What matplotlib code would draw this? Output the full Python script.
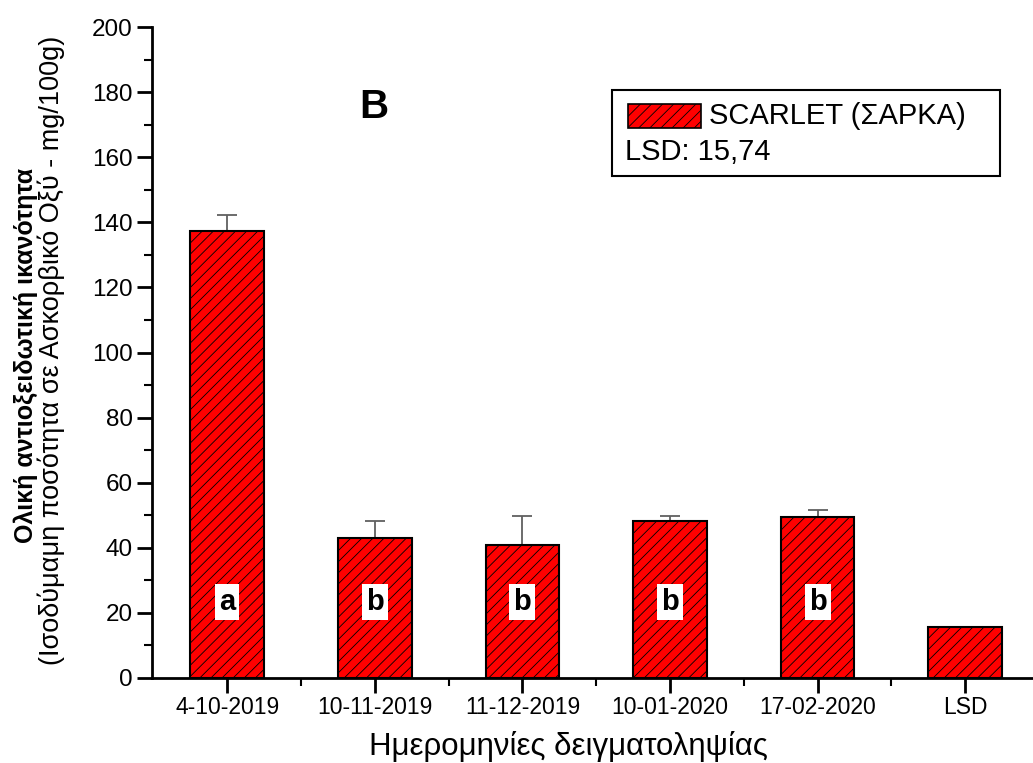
import matplotlib.pyplot as plt
import numpy as np

plt.rcParams['font.family'] = ['Liberation Sans', 'DejaVu Sans']
plt.rcParams['hatch.linewidth'] = 0.6

dates = ['4-10-2019', '10-11-2019', '11-12-2019', '10-01-2020', '17-02-2020', 'LSD']
values = [137.3, 43.0, 40.9, 48.2, 49.5, 15.74]
errors = [4.9, 5.2, 8.9, 1.5, 2.1, 0]
letters = ['a', 'b', 'b', 'b', 'b']

fig = plt.figure(figsize=(10.33, 7.63), dpi=100)
ax = fig.add_axes([152/1033, 1-678/763, 1-152/1033, (678-27)/763])

x = np.arange(len(dates))
ax.bar(x, values, width=0.5, color='#ff0000', edgecolor='black', linewidth=1.5,
       hatch='///', zorder=2)
ax.errorbar(x[:5], values[:5], yerr=[np.zeros(5), errors[:5]], fmt='none',
            ecolor='#606060', elinewidth=1.3, capsize=7, capthick=1.3, zorder=1)

for i, l in enumerate(letters):
    ax.text(x[i], 23.3, l, ha='center', va='center', fontsize=21, fontweight='bold',
            bbox=dict(facecolor='white', edgecolor='none', pad=3), zorder=3)

ax.set_xlim(-0.51, 5.46)
ax.set_ylim(0, 200)
ax.set_xticks(x)
ax.set_xticklabels(dates, fontsize=16.5)
ax.set_xticks(x[:-1] + 0.5, minor=True)
ax.set_yticks(np.arange(0, 201, 20))
ax.set_yticks(np.arange(10, 200, 20), minor=True)
ax.tick_params(axis='y', labelsize=17.5, pad=3)
ax.tick_params(axis='x', pad=2)
ax.tick_params(which='major', direction='out', length=11, width=2)
ax.tick_params(which='minor', direction='out', length=6, width=1.5)
for s in ['top', 'right']:
    ax.spines[s].set_visible(False)
for s in ['left', 'bottom']:
    ax.spines[s].set_linewidth(2)

fig.text(568/1033, 1-746/763, 'Ημερομηνίες δειγματοληψίας', fontsize=22.5,
         ha='center', va='center')
fig.text(26/1033, 1-355/763, 'Ολική αντιοξειδωτική ικανότητα', rotation=90,
         ha='center', va='center', fontsize=18, fontweight='bold')
fig.text(51/1033, 1-350/763, '(Ισοδύμαμη ποσότητα σε Ασκορβικό Οξύ - mg/100g)',
         rotation=90, ha='center', va='center', fontsize=19.5)

fig.text(374/1033, 1-107/763, 'B', fontsize=29, fontweight='bold', ha='center', va='center')

# legend box
lx0, ly0 = 612/1033, 1-176/763
lw, lh = (1000-612)/1033, (176-90)/763
fig.patches.append(plt.Rectangle((lx0, ly0), lw, lh, transform=fig.transFigure,
                                 facecolor='white', edgecolor='black', linewidth=1.5))
fig.patches.append(plt.Rectangle((628/1033, 1-128/763), 73/1033, 24/763,
                                 transform=fig.transFigure, facecolor='#ff0000',
                                 edgecolor='black', linewidth=1.2, hatch='///'))
fig.text(709/1033, 1-116/763, 'SCARLET (ΣΑΡΚΑ)', fontsize=21, va='center')
fig.text(625/1033, 1-152/763, 'LSD: 15,74', fontsize=21, va='center')

fig.savefig('out.png', dpi=100)
